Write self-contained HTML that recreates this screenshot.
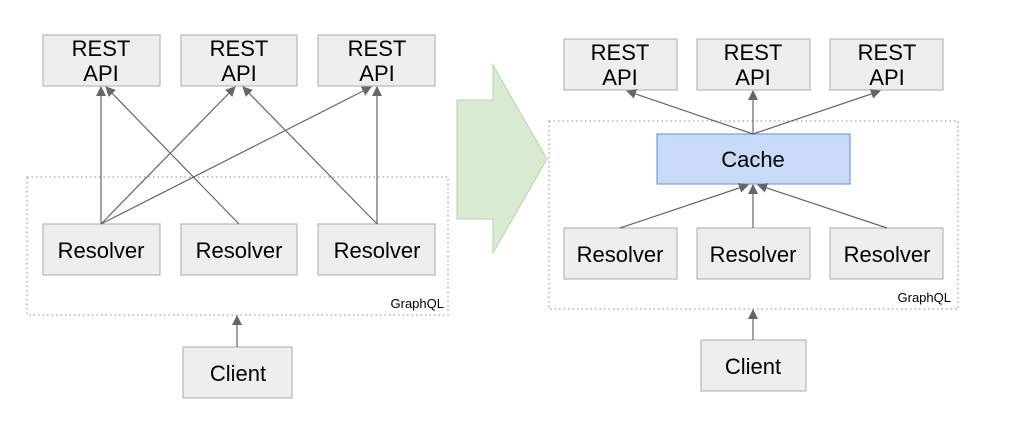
<!DOCTYPE html>
<html><head><meta charset="utf-8"><style>
body{margin:0;background:#fff;}
svg{display:block;font-family:"Liberation Sans",Arial,sans-serif;}
.b{fill:#eeeeee;stroke:#b7b7b7;stroke-width:1.2}
.l{stroke:#666;stroke-width:1.2;fill:none}
.t{font-size:22px;fill:#000;text-anchor:middle}
</style></head><body>
<svg width="1019" height="436" viewBox="0 0 1019 436">
<defs><marker id="a" markerWidth="12" markerHeight="12" refX="9" refY="5" orient="auto" markerUnits="userSpaceOnUse"><path d="M0,0 L10,5 L0,10 z" fill="#666"/></marker></defs>
<!-- left -->
<rect x="27" y="177" width="421" height="138" fill="none" stroke="#888" stroke-dasharray="1.5,3"/>
<text x="444" y="308" font-size="13" text-anchor="end">GraphQL</text>
<rect class="b" x="43" y="35" width="117" height="51"/><text class="t" x="101" y="56">REST</text><text class="t" x="101" y="81">API</text>
<rect class="b" x="181" y="35" width="116" height="51"/><text class="t" x="239" y="56">REST</text><text class="t" x="239" y="81">API</text>
<rect class="b" x="318" y="35" width="117" height="51"/><text class="t" x="377" y="56">REST</text><text class="t" x="377" y="81">API</text>
<rect class="b" x="43" y="224" width="117" height="51"/><text class="t" x="101" y="258">Resolver</text>
<rect class="b" x="181" y="224" width="116" height="51"/><text class="t" x="239" y="258">Resolver</text>
<rect class="b" x="318" y="224" width="117" height="51"/><text class="t" x="377" y="258">Resolver</text>
<rect class="b" x="183" y="347" width="109" height="51"/><text class="t" x="238" y="381">Client</text>
<line class="l" x1="101" y1="224" x2="101" y2="87" marker-end="url(#a)"/>
<line class="l" x1="101" y1="224" x2="235" y2="87" marker-end="url(#a)"/>
<line class="l" x1="101" y1="224" x2="371" y2="87" marker-end="url(#a)"/>
<line class="l" x1="239" y1="224" x2="106" y2="87" marker-end="url(#a)"/>
<line class="l" x1="377" y1="224" x2="243" y2="87" marker-end="url(#a)"/>
<line class="l" x1="377" y1="224" x2="377" y2="87" marker-end="url(#a)"/>
<line class="l" x1="237" y1="347" x2="237" y2="316" marker-end="url(#a)"/>
<!-- big arrow -->
<polygon points="457,100 493,100 493,65 547,159 493,253 493,219 457,219" fill="#d9ead3" stroke="#b6d7a8"/>
<!-- right -->
<rect x="549" y="121" width="409" height="188" fill="none" stroke="#888" stroke-dasharray="1.5,3"/>
<text x="951" y="302" font-size="13" text-anchor="end">GraphQL</text>
<rect class="b" x="564" y="39" width="113" height="51"/><text class="t" x="620" y="60">REST</text><text class="t" x="620" y="85">API</text>
<rect class="b" x="697" y="39" width="113" height="51"/><text class="t" x="753" y="60">REST</text><text class="t" x="753" y="85">API</text>
<rect class="b" x="830" y="39" width="113" height="51"/><text class="t" x="887" y="60">REST</text><text class="t" x="887" y="85">API</text>
<rect x="657" y="134" width="193" height="50" fill="#c9daf8" stroke="#6d9eeb" stroke-width="1.2"/><text class="t" x="753" y="167">Cache</text>
<rect class="b" x="564" y="228" width="113" height="51"/><text class="t" x="620" y="262">Resolver</text>
<rect class="b" x="697" y="228" width="113" height="51"/><text class="t" x="753" y="262">Resolver</text>
<rect class="b" x="830" y="228" width="113" height="51"/><text class="t" x="887" y="262">Resolver</text>
<rect class="b" x="701" y="340" width="105" height="51"/><text class="t" x="753" y="374">Client</text>
<line class="l" x1="753" y1="134" x2="627" y2="91" marker-end="url(#a)"/>
<line class="l" x1="753" y1="134" x2="753" y2="91" marker-end="url(#a)"/>
<line class="l" x1="753" y1="134" x2="880" y2="91" marker-end="url(#a)"/>
<line class="l" x1="620" y1="228" x2="748" y2="185" marker-end="url(#a)"/>
<line class="l" x1="753" y1="228" x2="753" y2="185" marker-end="url(#a)"/>
<line class="l" x1="887" y1="228" x2="758" y2="185" marker-end="url(#a)"/>
<line class="l" x1="753" y1="340" x2="753" y2="310" marker-end="url(#a)"/>
</svg>
</body></html>
